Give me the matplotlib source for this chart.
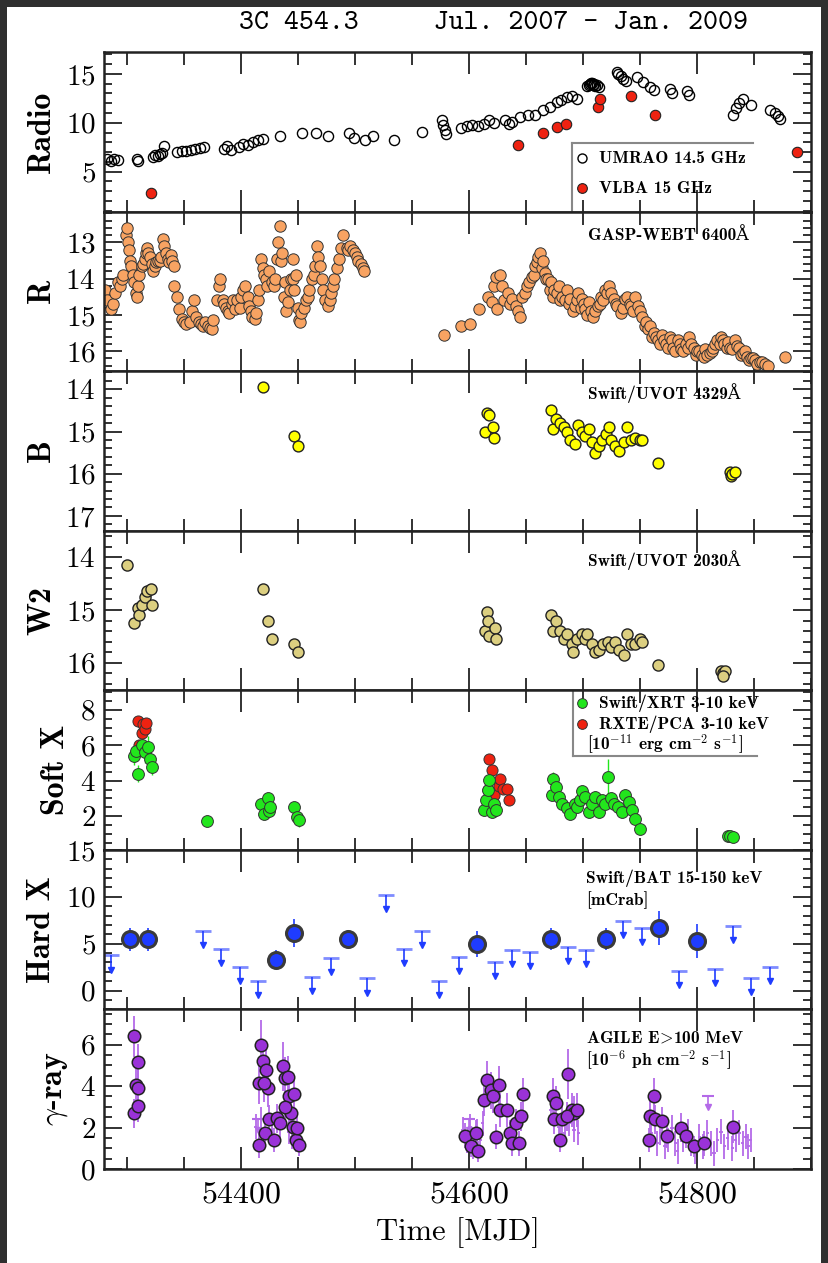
import matplotlib
matplotlib.use("Agg")
import matplotlib.pyplot as plt
import numpy as np
from matplotlib.ticker import MultipleLocator
from matplotlib.patches import Rectangle

plt.rcParams['font.family'] = ['cmr10', 'DejaVu Serif']
plt.rcParams['mathtext.fontset'] = 'cm'
plt.rcParams['axes.unicode_minus'] = False
plt.rcParams['axes.formatter.use_mathtext'] = True

# ---------------- data (MJD, value) ----------------
umrao = [(54283, 6.3), (54286, 6.1), (54289, 6.3), (54292, 6.2), (54309, 6.3), (54310, 6.1),
         (54323, 6.5), (54325, 6.7), (54327, 6.6), (54329, 6.8), (54331, 6.9), (54333, 7.6),
         (54344, 7.0), (54348, 7.1), (54352, 7.1), (54356, 7.2), (54360, 7.3), (54364, 7.4),
         (54368, 7.5), (54385, 7.3), (54388, 7.6), (54391, 7.2), (54398, 7.5), (54402, 7.8),
         (54406, 7.7), (54411, 8.0), (54415, 8.2), (54419, 8.3), (54434, 8.6), (54454, 8.9),
         (54466, 8.9), (54476, 8.6), (54495, 8.9), (54499, 8.4), (54509, 8.2), (54516, 8.6),
         (54534, 8.2), (54559, 9.1), (54576, 10.3), (54577, 9.8), (54579, 9.3), (54580, 8.8),
         (54593, 9.5), (54598, 9.7), (54603, 9.8), (54608, 9.7), (54613, 9.9), (54618, 10.3),
         (54622, 10.0), (54632, 10.3), (54635, 9.9), (54638, 10.1), (54645, 10.6), (54652, 10.8),
         (54658, 10.8), (54665, 11.3), (54671, 11.6), (54677, 12.1), (54681, 12.3), (54686, 12.6),
         (54690, 12.7), (54695, 12.4), (54704, 13.8), (54705, 13.9), (54706, 14.0), (54707, 14.1),
         (54708, 14.1), (54709, 13.9), (54710, 14.0), (54711, 13.8), (54712, 13.9), (54714, 13.7),
         (54730, 15.2), (54731, 15.0), (54733, 14.8), (54735, 14.5), (54738, 14.3), (54747, 14.7),
         (54753, 14.2), (54759, 13.7), (54762, 13.4), (54776, 13.5), (54778, 13.0), (54791, 13.3),
         (54793, 12.8), (54832, 10.8), (54834, 11.5), (54837, 12.0), (54840, 12.4), (54847, 11.8),
         (54864, 11.3), (54868, 11.0), (54871, 10.7), (54873, 10.4)]
vlba = [(54321, 2.8), (54643, 7.7), (54665, 8.9), (54677, 9.6), (54685, 9.9), (54713, 11.6),
        (54715, 12.4), (54742, 12.7), (54763, 10.8), (54888, 7.0)]

r_band = [(54281, 14.3), (54283, 14.6), (54286, 14.85), (54288, 14.7), (54290, 14.4), (54292, 14.1),
          (54294, 14.2), (54296, 14.0), (54297, 13.9), (54299, 12.8), (54300, 12.6), (54301, 13.0),
          (54302, 13.2), (54303, 13.5), (54304, 13.65), (54305, 13.9), (54306, 14.1), (54308, 14.4),
          (54309, 14.5), (54310, 14.2), (54311, 13.9), (54313, 13.65), (54314, 13.6), (54316, 13.45),
          (54317, 13.3), (54318, 13.15), (54319, 13.3), (54320, 13.4), (54322, 13.6), (54323, 13.8),
          (54325, 13.65), (54326, 13.55), (54327, 13.5), (54329, 13.5), (54330, 13.4), (54332, 12.9),
          (54333, 13.1), (54334, 13.3), (54336, 13.45), (54337, 13.55), (54339, 13.35), (54340, 13.5),
          (54341, 13.65), (54341, 14.2), (54344, 14.5), (54346, 14.85), (54348, 15.1), (54350, 15.2),
          (54352, 15.25), (54355, 15.2), (54357, 14.9), (54359, 14.6), (54361, 15.05), (54363, 15.2),
          (54365, 15.25), (54367, 15.3), (54369, 15.2), (54371, 15.3), (54373, 15.35), (54375, 15.4),
          (54376, 15.15), (54379, 14.6), (54381, 14.2), (54382, 14.0), (54384, 14.6), (54385, 14.7),
          (54387, 14.8), (54389, 14.9), (54390, 14.95), (54392, 14.7), (54393, 14.6), (54395, 14.85),
          (54397, 14.6), (54399, 14.8), (54400, 14.5), (54402, 14.3), (54404, 14.2), (54406, 14.5),
          (54407, 14.75), (54409, 14.9), (54410, 15.05), (54412, 15.1), (54413, 14.95), (54415, 14.6),
          (54416, 14.3), (54418, 13.45), (54419, 13.7), (54420, 13.9), (54422, 14.0), (54423, 14.2),
          (54425, 13.8), (54427, 14.1), (54429, 14.2), (54430, 14.0), (54432, 13.45), (54433, 13.0),
          (54434, 12.55), (54435, 13.5), (54436, 13.3), (54438, 14.5), (54439, 14.1), (54440, 14.9),
          (54441, 14.65), (54443, 14.3), (54444, 14.0), (54446, 13.45), (54446, 14.0), (54447, 14.3),
          (54448, 13.9), (54450, 14.8), (54451, 15.15), (54452, 15.2), (54453, 14.95), (54455, 14.8),
          (54457, 14.6), (54459, 14.5), (54460, 14.3), (54462, 14.0), (54464, 13.9), (54465, 13.65),
          (54467, 13.1), (54468, 13.4), (54469, 13.65), (54471, 14.0), (54472, 14.3), (54474, 14.6),
          (54476, 14.75), (54478, 14.6), (54479, 14.4), (54481, 14.2), (54482, 14.0), (54484, 13.7),
          (54486, 13.45), (54488, 13.15), (54490, 12.8), (54493, 13.15), (54494, 13.2), (54496, 13.1),
          (54498, 13.2), (54500, 13.3), (54502, 13.4), (54503, 13.5), (54505, 13.6), (54507, 13.7),
          (54508, 13.8),
          (54578, 15.55), (54593, 15.3), (54601, 15.25), (54609, 14.85), (54617, 14.5), (54620, 14.65),
          (54622, 14.2), (54624, 13.95), (54625, 14.85), (54627, 13.9), (54629, 14.2), (54631, 14.6),
          (54634, 14.4), (54636, 14.7), (54638, 14.55), (54641, 14.75), (54643, 14.9), (54645, 15.05),
          (54647, 14.5), (54649, 14.4), (54651, 14.2), (54653, 14.1), (54655, 13.95), (54657, 13.9),
          (54658, 13.65), (54660, 13.55), (54661, 13.4), (54662, 13.3), (54664, 13.7), (54665, 13.5),
          (54667, 13.85), (54668, 14.0), (54669, 14.0), (54671, 14.3), (54672, 14.1), (54674, 14.5),
          (54675, 14.3), (54677, 14.4), (54679, 14.2), (54680, 14.6), (54682, 14.5), (54684, 14.6),
          (54686, 14.3), (54688, 14.7), (54689, 14.55), (54691, 14.9), (54693, 14.75), (54695, 14.6),
          (54696, 14.4), (54698, 14.8), (54699, 14.55), (54701, 14.7), (54702, 14.85), (54704, 15.0),
          (54705, 14.65), (54707, 14.9), (54709, 15.05), (54711, 14.9), (54713, 14.75), (54715, 14.7),
          (54716, 14.5), (54718, 14.6), (54719, 14.3), (54721, 14.4), (54723, 14.2), (54725, 14.4),
          (54727, 14.55), (54729, 14.7), (54730, 14.75), (54733, 14.95), (54735, 14.8), (54737, 14.55),
          (54739, 14.5), (54741, 14.7), (54742, 14.75), (54744, 14.9), (54746, 14.5), (54748, 14.75),
          (54750, 14.9), (54752, 15.05), (54754, 15.3), (54755, 15.2), (54757, 15.4), (54759, 15.3),
          (54761, 15.6), (54762, 15.5), (54764, 15.6), (54766, 15.7), (54768, 15.8), (54769, 15.55),
          (54771, 15.7), (54773, 15.8), (54775, 15.9), (54776, 15.6), (54778, 15.7), (54779, 15.9),
          (54781, 16.0), (54783, 15.7), (54785, 15.8), (54786, 15.95), (54788, 16.0), (54790, 15.8),
          (54792, 15.9), (54793, 15.6), (54795, 15.8), (54797, 15.9), (54799, 16.1), (54800, 16.0),
          (54802, 16.0), (54804, 16.1), (54806, 16.15), (54807, 15.95), (54809, 16.1), (54811, 16.05),
          (54813, 16.0), (54814, 15.9), (54816, 15.8), (54818, 15.7), (54820, 15.8), (54821, 15.6),
          (54823, 15.7), (54824, 15.8), (54826, 15.9), (54827, 15.75), (54829, 15.9), (54831, 15.95),
          (54833, 15.7), (54835, 15.85), (54837, 15.9), (54839, 16.1), (54840, 16.05), (54842, 16.0),
          (54844, 16.15), (54846, 16.25), (54847, 16.2), (54849, 16.2), (54851, 16.25), (54853, 16.35),
          (54855, 16.3), (54857, 16.3), (54860, 16.35), (54862, 16.4), (54877, 16.15)]

b_band = [(54419, 13.95), (54447, 15.1), (54450, 15.35),
          (54614, 15.0), (54616, 14.55), (54618, 14.6), (54621, 14.9), (54622, 15.15),
          (54672, 14.5), (54674, 14.95), (54676, 14.7), (54680, 14.8), (54683, 14.9), (54686, 15.0),
          (54689, 15.2), (54693, 15.3), (54696, 14.85), (54699, 15.0), (54702, 15.1), (54705, 14.95),
          (54708, 15.25), (54711, 15.5), (54714, 15.35), (54717, 15.2), (54720, 15.05), (54723, 14.9),
          (54725, 15.2), (54728, 15.35), (54732, 15.45), (54736, 15.25), (54739, 14.9), (54742, 15.2),
          (54746, 15.15), (54750, 15.2), (54752, 15.2),
          (54766, 15.75), (54829, 15.95), (54830, 16.05), (54831, 16.0), (54833, 15.95)]

w2_band = [(54300, 14.15), (54306, 15.25), (54310, 14.97), (54311, 15.1), (54313, 14.9), (54316, 14.75),
           (54318, 14.65), (54321, 14.6), (54322, 14.9),
           (54419, 14.6), (54424, 15.2), (54427, 15.55), (54447, 15.65), (54450, 15.8),
           (54614, 15.4), (54616, 15.03), (54617, 15.2), (54618, 15.5), (54623, 15.35), (54624, 15.55),
           (54672, 15.1), (54674, 15.4), (54676, 15.2), (54680, 15.4), (54683, 15.55), (54686, 15.45),
           (54690, 15.65), (54691, 15.8), (54695, 15.55), (54699, 15.45), (54702, 15.55), (54704, 15.45),
           (54708, 15.65), (54711, 15.8), (54714, 15.75), (54718, 15.65), (54722, 15.6), (54725, 15.7),
           (54728, 15.6), (54732, 15.75), (54736, 15.85), (54739, 15.45), (54742, 15.65), (54746, 15.65),
           (54750, 15.55), (54752, 15.6),
           (54766, 16.05), (54821, 16.15), (54823, 16.2), (54825, 16.15), (54823, 16.25)]

# (MJD, flux, error)
xrt = [(54306, 5.4, 0.5), (54308, 5.7, 0.5), (54310, 4.4, 0.5), (54313, 6.0, 0.6), (54316, 5.6, 0.6),
       (54319, 5.9, 0.6), (54320, 5.2, 0.5), (54322, 4.8, 0.5),
       (54370, 1.75, 0.25),
       (54418, 2.7, 0.3), (54420, 2.15, 0.3), (54424, 3.0, 0.3), (54425, 2.3, 0.3), (54426, 2.5, 0.3),
       (54447, 2.5, 0.3), (54449, 1.95, 0.4), (54451, 1.8, 0.4),
       (54613, 2.35, 0.3), (54615, 2.9, 0.3), (54617, 3.45, 0.3), (54618, 4.05, 0.4), (54620, 2.25, 0.3),
       (54622, 2.7, 0.3), (54624, 2.35, 0.3),
       (54673, 3.2, 0.3), (54674, 4.1, 0.4), (54676, 3.65, 0.3), (54679, 3.1, 0.3), (54682, 2.7, 0.3),
       (54686, 2.45, 0.3), (54689, 2.15, 0.3), (54693, 2.7, 0.3), (54695, 2.5, 0.3), (54697, 2.9, 0.3),
       (54699, 3.4, 0.3), (54702, 3.1, 0.3), (54705, 2.25, 0.3), (54708, 2.7, 0.3), (54711, 3.1, 0.3),
       (54714, 2.25, 0.3), (54717, 2.9, 0.3), (54719, 2.7, 0.3), (54722, 4.2, 1.0), (54725, 3.0, 0.3),
       (54727, 2.7, 0.3), (54731, 2.5, 0.3), (54734, 2.25, 0.3), (54737, 3.2, 0.3), (54740, 2.8, 0.3),
       (54743, 2.35, 0.3), (54746, 1.85, 0.3), (54750, 1.25, 0.2),
       (54827, 0.9, 0.15), (54829, 0.9, 0.15), (54832, 0.85, 0.15)]
pca = [(54310, 7.35), (54311, 6.0), (54313, 6.7), (54314, 7.2), (54316, 6.9), (54317, 7.25),
       (54617, 3.5), (54618, 5.2), (54620, 4.6), (54622, 3.2), (54626, 3.7), (54627, 4.1),
       (54630, 3.55), (54633, 3.55), (54635, 2.9)]

bat_det = [(54303, 5.45, 1.2), (54319, 5.45, 1.2), (54431, 3.3, 1.0), (54447, 6.1, 1.5),
           (54494, 5.5, 1.0), (54607, 5.0, 1.4), (54672, 5.5, 1.2), (54720, 5.5, 1.2),
           (54767, 6.7, 1.8), (54800, 5.3, 1.8)]
bat_ul = [(54286.5, 3.75), (54366.5, 6.35), (54383, 4.45), (54399.5, 2.55), (54415, 1.05),
          (54462, 1.5), (54479, 3.5), (54511, 1.3), (54527, 10.2), (54543, 4.45), (54559, 6.35),
          (54574, 1.05), (54591, 3.6), (54623, 3.1), (54638, 4.35), (54654, 4.1), (54687, 4.65),
          (54703, 4.3), (54735, 7.4), (54752, 6.7), (54784, 2.1), (54816, 2.35), (54832, 6.85),
          (54847, 1.35), (54864, 2.55)]

agile_big = [(54306.5, 6.4, 1.0), (54310, 5.15, 0.9), (54308, 4.05, 0.9), (54310, 3.9, 0.9),
             (54306.5, 2.7, 0.7), (54310, 3.05, 0.8),
             (54418, 6.0, 1.2), (54416, 4.15, 1.0), (54419.5, 5.2, 1.0), (54422, 4.8, 1.0),
             (54424, 3.9, 0.9), (54420, 4.15, 0.9), (54416, 1.15, 0.6), (54421, 1.75, 0.6),
             (54425, 2.4, 0.7), (54429, 1.4, 0.6), (54432, 2.45, 0.7), (54437, 4.95, 1.2),
             (54439, 4.4, 1.0), (54441, 4.45, 1.0), (54442, 3.5, 0.9), (54444, 2.7, 0.8),
             (54446, 2.05, 0.7), (54447, 3.6, 0.9), (54448, 1.4, 0.6), (54451, 1.15, 0.5),
             (54449, 2.0, 0.7), (54439, 3.0, 0.8), (54434, 2.2, 0.7),
             (54597, 1.6, 0.6), (54602, 1.1, 0.5), (54606, 1.75, 0.6), (54608, 0.85, 0.5),
             (54613, 3.35, 0.8), (54616, 4.3, 0.9), (54619, 3.8, 0.9), (54621, 3.5, 0.8),
             (54624, 1.55, 0.6), (54626, 4.05, 0.9), (54627.5, 2.85, 0.8), (54633.5, 2.85, 0.8),
             (54636, 1.75, 0.6), (54638, 1.25, 0.6), (54641, 2.2, 0.7), (54644, 1.25, 0.6),
             (54646, 2.55, 0.7), (54647.5, 3.6, 0.8),
             (54674, 3.5, 0.9), (54676, 3.2, 0.8), (54675, 2.4, 0.7), (54680, 1.4, 0.6),
             (54682, 2.4, 0.7), (54686.5, 4.6, 1.2), (54690, 2.85, 0.8), (54692.5, 2.7, 0.8),
             (54686, 2.55, 0.7), (54695, 2.85, 0.8),
             (54762, 3.5, 0.9), (54759, 2.55, 0.8), (54763, 2.4, 0.7), (54769, 2.3, 0.7),
             (54758, 1.4, 0.6), (54774, 1.6, 0.6), (54786, 2.0, 0.7), (54790, 1.6, 0.6),
             (54797, 1.1, 0.5), (54806, 1.25, 0.6), (54832, 2.05, 0.8)]
agile_small = [(54413, 2.05, 0.6), (54418, 2.4, 0.6), (54427, 1.9, 0.6), (54442, 1.8, 0.6),
               (54445, 1.55, 0.6), (54595, 1.9, 0.6), (54598, 1.25, 0.5), (54601, 2.05, 0.6),
               (54604, 1.0, 0.5), (54607, 1.8, 0.6), (54610, 1.4, 0.6), (54612, 2.2, 0.6),
               (54672, 2.85, 0.7), (54679, 2.05, 0.6), (54684, 1.75, 0.6), (54688, 2.2, 0.6),
               (54692, 1.9, 0.6), (54696, 1.75, 0.6),
               (54760, 1.75, 0.6), (54765, 1.25, 0.6), (54768, 1.75, 0.6), (54772, 1.1, 0.6),
               (54775, 1.4, 0.6), (54778, 2.0, 0.6), (54781, 1.25, 0.6), (54783, 0.85, 0.6),
               (54788, 1.4, 0.6), (54792, 1.8, 0.6), (54795, 1.25, 0.6), (54798, 0.85, 0.6),
               (54802, 1.55, 0.6), (54805, 1.1, 0.6), (54809, 1.75, 0.6), (54812, 1.25, 0.6),
               (54815, 0.75, 0.6), (54818, 1.4, 0.6), (54821, 1.8, 0.6), (54824, 1.1, 0.6),
               (54827, 1.5, 0.6), (54831, 1.0, 0.6), (54834, 1.4, 0.6), (54837, 1.75, 0.6),
               (54840, 1.25, 0.6), (54843, 1.55, 0.6), (54845, 1.1, 0.6), (54847, 1.4, 0.6)]
agile_ul = [(54810, 3.5), (54415, 2.4), (54600, 2.4)]

panel_names = ['Radio', 'R', 'B', 'W2', 'Soft X', 'Hard X', r'$\gamma$-ray']
# ---------------------------------------------------------------------

BLUE = '#1f3cff'
PURPLE = '#9a32d8'
PURPLE_ERR = '#b46ae8'

fig = plt.figure(figsize=(8.29, 12.63), dpi=100, facecolor='#2f2f2f')
fig.add_artist(Rectangle((7 / 829, 0), (821 - 7) / 829, 1 - 7 / 1263,
                         transform=fig.transFigure, facecolor='white', edgecolor='none', zorder=-10))

left, width = 104 / 829, (811 - 104) / 829
bottom0, h = 1 - 1169 / 1263, (1169 - 52) / 1263 / 7
axes = []
for i in range(7):
    ax = fig.add_axes([left, bottom0 + (6 - i) * h, width, h])
    ax.set_xlim(54280, 54900)
    axes.append(ax)

ylims = [(0.9, 17.25), (16.55, 12.15), (17.35, 13.57), (16.52, 13.5), (0.1, 9.1), (-2, 15), (0, 7.7)]
ymaj = [5, 1, 1, 1, 2, 5, 2]
ymin = [1, 0.2, 0.2, 0.2, 0.5, 1, 0.5]
label_x = [-0.088, -0.088, -0.088, -0.088, -0.068, -0.088, -0.068]

for ax, name, yl, ma, mi, lx in zip(axes, panel_names, ylims, ymaj, ymin, label_x):
    ax.set_ylim(*yl)
    ax.yaxis.set_major_locator(MultipleLocator(ma))
    ax.yaxis.set_minor_locator(MultipleLocator(mi))
    ax.xaxis.set_major_locator(MultipleLocator(200))
    ax.xaxis.set_minor_locator(MultipleLocator(50))
    ax.tick_params(which='both', direction='in', top=True, right=True, width=1.3,
                   color='#222222', labelbottom=False)
    ax.tick_params(axis='y', which='major', length=13, labelsize=21, pad=6)
    ax.tick_params(axis='y', which='minor', length=6)
    ax.tick_params(axis='x', which='major', length=16)
    ax.tick_params(axis='x', which='minor', length=9)
    for s in ax.spines.values():
        s.set_linewidth(1.8)
        s.set_color('#222222')
    ax.set_ylabel(name, family=['cmb10', 'DejaVu Serif'], fontsize=23, va='center')
    ax.yaxis.set_label_coords(lx, 0.5)

lab_font = dict(family=['cmb10', 'DejaVu Serif'], fontsize=12.5)

# Radio
ax = axes[0]
x, y = np.array(umrao).T
ax.plot(x, y, 'o', ms=7.3, mfc='none', mec='black', mew=1.0)
x, y = np.array(vlba).T
ax.plot(x, y, 'o', ms=7.5, mfc='#ee2211', mec='#222222', mew=0.8)
ax.plot([0.662, 0.918], [0.43, 0.43], transform=ax.transAxes, color='#888888', lw=1.5)
ax.plot([0.662, 0.662], [0.43, 0.0], transform=ax.transAxes, color='#888888', lw=1.5)
ax.plot([0.676], [0.335], 'o', transform=ax.transAxes, ms=6.5, mfc='none', mec='black', mew=1.0)
ax.plot([0.676], [0.147], 'o', transform=ax.transAxes, ms=7, mfc='#ee2211', mec='#222222', mew=0.8)
ax.text(0.70, 0.335, 'UMRAO 14.5 GHz', transform=ax.transAxes, va='center', **lab_font)
ax.text(0.70, 0.147, 'VLBA 15 GHz', transform=ax.transAxes, va='center', **lab_font)

# R
ax = axes[1]
x, y = np.array(r_band).T
ax.plot(x, y, 'o', ms=8.2, mfc='#f8a362', mec='#333333', mew=0.7)
ax.text(0.685, 0.852, 'GASP-WEBT 6400Å', transform=ax.transAxes, va='center', **lab_font)

# B
ax = axes[2]
x, y = np.array(b_band).T
ax.plot(x, y, 'o', ms=7.8, mfc='#ffff00', mec='#222222', mew=1.0)
ax.text(0.685, 0.865, 'Swift/UVOT 4329Å', transform=ax.transAxes, va='center', **lab_font)

# W2
ax = axes[3]
x, y = np.array(w2_band).T
ax.plot(x, y, 'o', ms=8, mfc='#dccf80', mec='#222222', mew=1.0)
ax.text(0.685, 0.815, 'Swift/UVOT 2030Å', transform=ax.transAxes, va='center', **lab_font)

# Soft X
ax = axes[4]
x, y, e = np.array(xrt).T
ax.errorbar(x, y, yerr=e, fmt='o', ms=8.5, mfc='#22e61c', mec='#333333', mew=0.7,
            ecolor='#22e61c', elinewidth=1.0, capsize=0)
x, y = np.array(pca).T
ax.plot(x, y, 'o', ms=8, mfc='#ee2211', mec='#333333', mew=0.7)
ax.plot([0.663, 0.663], [1.0, 0.589], transform=ax.transAxes, color='#888888', lw=1.5)
ax.plot([0.663, 0.924], [0.589, 0.589], transform=ax.transAxes, color='#888888', lw=1.5)
ax.plot([0.676], [0.921], 'o', transform=ax.transAxes, ms=7, mfc='#22e61c', mec='#333333', mew=0.7)
ax.plot([0.676], [0.789], 'o', transform=ax.transAxes, ms=7, mfc='#ee2211', mec='#333333', mew=0.7)
ax.text(0.70, 0.921, 'Swift/XRT 3-10 keV', transform=ax.transAxes, va='center', **lab_font)
ax.text(0.70, 0.789, 'RXTE/PCA 3-10 keV', transform=ax.transAxes, va='center', **lab_font)
ax.text(0.683, 0.664, r'[10$^{-11}$ erg cm$^{-2}$ s$^{-1}$]', transform=ax.transAxes,
        va='center', **lab_font)

# Hard X
ax = axes[5]
x, y = np.array(bat_ul).T
ax.plot(x, y, '_', ms=11, mew=2.0, color='#7f8cff')
ax.vlines(x, y - 1.5, y, color=BLUE, lw=1.2)
ax.plot(x, y - 1.5, 'v', ms=5, color=BLUE)
x, y, e = np.array(bat_det).T
ax.errorbar(x, y, yerr=e, xerr=3.5, fmt='o', ms=11.5, mfc=BLUE, mec='#3a3a3a', mew=2.2,
            ecolor=BLUE, elinewidth=1.2, capsize=0)
ax.text(0.682, 0.82, 'Swift/BAT 15-150 keV', transform=ax.transAxes, va='center', **lab_font)
ax.text(0.682, 0.683, '[mCrab]', transform=ax.transAxes, va='center', **lab_font)

# gamma-ray
ax = axes[6]
x, y, e = np.array(agile_small).T
ax.errorbar(x, y, yerr=e, xerr=1.5, fmt='none', ecolor=PURPLE_ERR, elinewidth=1.3, capsize=0)
x, y = np.array(agile_ul).T
ax.vlines(x, y - 0.5, y, color=PURPLE_ERR, lw=1.2)
ax.plot(x, y, '_', ms=8, mew=1.5, color=PURPLE_ERR)
ax.plot(x, y - 0.5, 'v', ms=4, color=PURPLE_ERR)
x, y, e = np.array(agile_big).T
ax.errorbar(x, y, yerr=e, fmt='o', ms=9, mfc=PURPLE, mec='#222222', mew=1.1,
            ecolor=PURPLE_ERR, elinewidth=1.3, capsize=0)
ax.text(0.682, 0.827, r'AGILE E$\!>\!$100 MeV', transform=ax.transAxes, va='center', **lab_font)
ax.text(0.682, 0.683, r'[10$^{-6}$ ph cm$^{-2}$ s$^{-1}$]', transform=ax.transAxes,
        va='center', **lab_font)
ax.tick_params(labelbottom=True)
ax.tick_params(axis='x', labelsize=23, pad=9)
ax.set_xlabel('Time [MJD]', fontsize=22, labelpad=6)

fig.text(0.595, 0.9815, '3C 454.3     Jul. 2007 - Jan. 2009', family='cmtt10', fontsize=20.5,
         ha='center', va='center')

fig.savefig('out.png', dpi=100, facecolor=fig.get_facecolor())
